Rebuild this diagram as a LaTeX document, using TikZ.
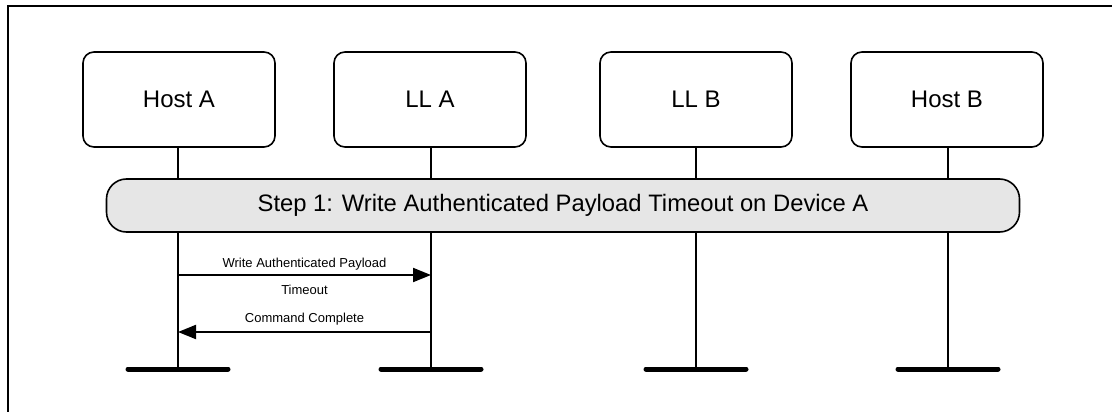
\documentclass[tikz,border=0pt]{standalone}
\usepackage{fontspec}
\setmainfont{Liberation Sans}
\usetikzlibrary{arrows.meta,calc}
\definecolor{pillgrey}{HTML}{E6E6E6}
\tikzset{
  actor/.style={draw,line width=1.6pt,rounded corners=11pt,minimum width=192pt,minimum height=95pt,font=\fontsize{24}{28}\selectfont},
  life/.style={line width=1.6pt},
  bar/.style={line width=5pt,line cap=round},
  pill/.style={draw,fill=pillgrey,line width=1.6pt,rounded corners=20pt,minimum width=913pt,minimum height=53pt,font=\fontsize{23.8}{28}\selectfont},
  msg/.style={line width=2pt,-{Triangle[length=18pt,width=14pt]}},
  msglabel/.style={font=\fontsize{13}{27}\selectfont,align=center,inner sep=0pt},
  frame/.style={line width=2.5pt}
}
\begin{document}
\begin{tikzpicture}[x=1pt,y=-1pt]
\useasboundingbox (0,0) rectangle (1112,412);
% frame (cropped: only top and left visible)
\coordinate (fr1) at (8,412);
\coordinate (fr2) at (8,6);
\coordinate (fr3) at (1112,6);
\draw[frame] (fr1) -- (fr2) -- (fr3);
% actors
\node[actor] (ha) at (179,99.5) {Host A};
\node[actor] (la) at (430,99.5) {LL A};
\node[actor] (lb) at (696,99.5) {LL B};
\node[actor] (hb) at (947,99.5) {Host B};
% lifeline ends
\coordinate (hab) at (178,369);
\coordinate (lab) at (431,369);
\coordinate (lbb) at (696,369);
\coordinate (hbb) at (948,369);
\draw[life] (ha.south -| hab) -- (hab);
\draw[life] (la.south -| lab) -- (lab);
\draw[life] (lb.south -| lbb) -- (lbb);
\draw[life] (hb.south -| hbb) -- (hbb);
\draw[bar] ($(hab)+(-50,0)$) -- ($(hab)+(50,0)$);
\draw[bar] ($(lab)+(-50,0)$) -- ($(lab)+(50,0)$);
\draw[bar] ($(lbb)+(-50,0)$) -- ($(lbb)+(50,0)$);
\draw[bar] ($(hbb)+(-50,0)$) -- ($(hbb)+(50,0)$);
% step
\node[pill] (step) at (563,205.5) {Step 1: Write Authenticated Payload Timeout on Device A};
% messages
\coordinate (m1a) at (178,275);
\coordinate (m1b) at (431,275);
\coordinate (m2a) at (431,332);
\coordinate (m2b) at (178,332);
\draw[msg] (m1a) -- node[msglabel,yshift=-1.5pt] (l1) {Write Authenticated Payload\\Timeout} (m1b);
\draw[msg] (m2a) -- node[msglabel,above=6pt] (l2) {Command Complete} (m2b);
\end{tikzpicture}
\end{document}
